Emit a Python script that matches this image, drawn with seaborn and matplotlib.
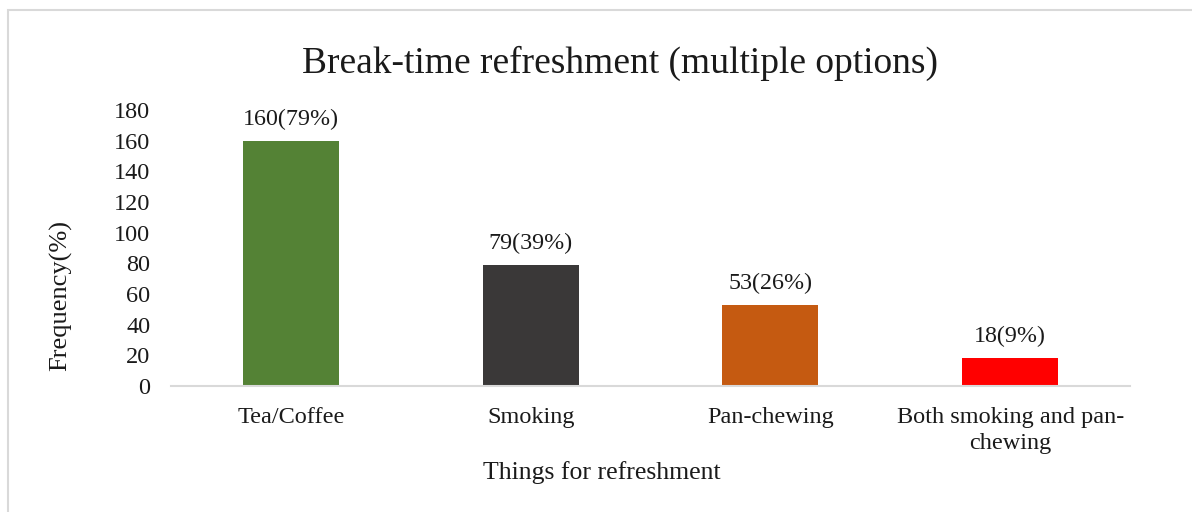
import matplotlib
matplotlib.use("Agg")
import matplotlib.pyplot as plt
import seaborn as sns
import pandas as pd

# chart data
categories = ["Tea/Coffee", "Smoking", "Pan-chewing", "Both smoking and pan-\nchewing"]
counts = [160, 79, 53, 18]
percents = [79, 39, 26, 9]
bar_colors = ["#548235", "#3A3838", "#C55A11", "#FF0000"]
y_ticks = [0, 20, 40, 60, 80, 100, 120, 140, 160, 180]

df = pd.DataFrame({"Category": categories, "Count": counts})

sns.set_style("white")
plt.rcParams["font.family"] = ["Liberation Serif", "DejaVu Serif"]

fig = plt.figure(figsize=(11.92, 5.12), dpi=100)
ax = fig.add_axes([0.1435, 0.246, 0.8045, 0.539])

sns.barplot(data=df, x="Category", y="Count", hue="Category", palette=bar_colors,
            width=0.4, legend=False, ax=ax, saturation=1, linewidth=0)

# value labels above bars
for i, (c, p) in enumerate(zip(counts, percents)):
    ax.annotate(f"{c}({p}%)", (i, c), xytext=(0, 8), textcoords="offset points",
                ha="center", va="bottom", fontsize=17.3, color="#1a1a1a")

ax.set_ylim(0, 180)
ax.set_yticks(y_ticks)
ax.set_xlim(-0.5, 3.5)
ax.tick_params(axis="both", length=0, labelsize=17.5, colors="#1a1a1a")
ax.tick_params(axis="x", pad=15)
ax.tick_params(axis="y", pad=15)
for lbl in ax.get_xticklabels():
    lbl.set_linespacing(1.3)

for s in ["top", "right", "left"]:
    ax.spines[s].set_visible(False)
ax.spines["bottom"].set_color("#D9D9D9")
ax.spines["bottom"].set_linewidth(1.5)

ax.set_xlabel("")
ax.set_ylabel("")
fig.text(0.505, 0.0762, "Things for refreshment", fontsize=18.5,
         ha="center", va="center", color="#1a1a1a")
fig.text(0.051, 0.422, "Frequency(%)", fontsize=19, rotation=90,
         ha="center", va="center", color="#1a1a1a")
fig.text(0.52, 0.877, "Break-time refreshment (multiple options)", fontsize=27,
         ha="center", va="center", color="#1a1a1a")

# outer chart border
border = plt.Rectangle((8 / 1192, -0.01), 1.0, 1 - 10 / 512 + 0.01, transform=fig.transFigure,
                       fill=False, edgecolor="#D9D9D9", linewidth=1.5)
fig.add_artist(border)

fig.savefig("out.png", dpi=100)
